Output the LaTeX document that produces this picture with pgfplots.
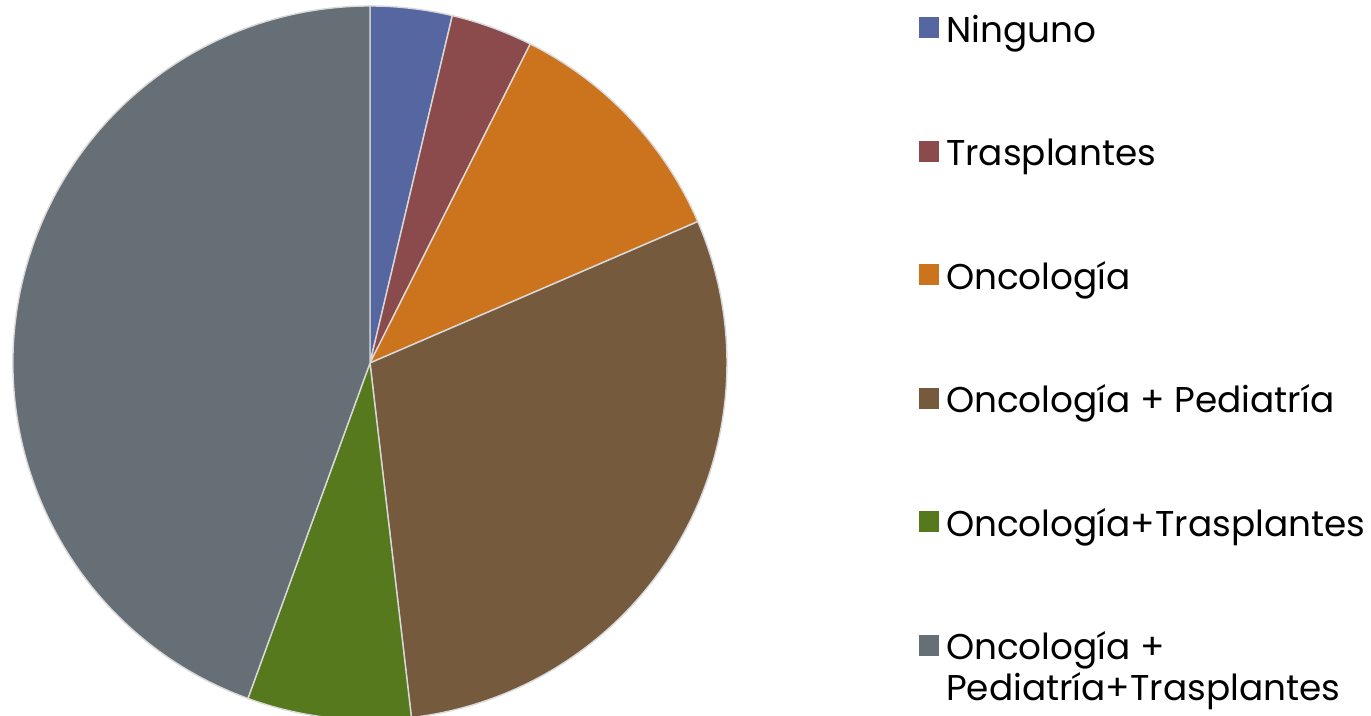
\documentclass[border=0pt]{standalone}
\usepackage{pgfplots}
\pgfplotsset{compat=1.18}
\usepackage{pgfplotstable}
\usepackage{fontspec}
\setmainfont{Poppins}

\definecolor{cNinguno}{HTML}{5566A1}
\definecolor{cTras}{HTML}{8B4A4C}
\definecolor{cOnco}{HTML}{CC741D}
\definecolor{cOncoPed}{HTML}{765A3E}
\definecolor{cOncoTras}{HTML}{55791C}
\definecolor{cTodo}{HTML}{666F76}

% counts per group (total 27)
\pgfplotstableread{
idx value color
0 1  cNinguno
1 1  cTras
2 3  cOnco
3 8  cOncoPed
4 2  cOncoTras
5 12 cTodo
}\pietable

\newcommand{\pieR}{3.57cm}

\begin{document}
\begin{tikzpicture}
\useasboundingbox (0,0) rectangle (13.71cm,7.16cm);
\begin{axis}[
	at={(3.70cm,3.53cm)}, anchor=center,
	x=\pieR, y=\pieR,
	xmin=-1, xmax=1, ymin=-1, ymax=1,
	hide axis, clip=false,
	legend cell align=left,
	legend image code/.code={\fill[#1, draw=none] (0cm,-0.085cm) rectangle (0.2cm,0.125cm);},
	legend style={at={(axis description cs:1.268,0.999)}, anchor=north west,
		draw=none, fill=none, inner sep=0pt, font=\fontsize{10.2}{12}\selectfont,
		row sep=0.785cm, column sep=0.07cm,
		nodes={inner sep=0pt, text height=0.35cm, text depth=0.1cm}},
]
\pgfmathsetmacro\total{0}
\pgfplotsforeachungrouped \i in {0,...,5}{%
	\pgfplotstablegetelem{\i}{value}\of\pietable
	\pgfmathsetmacro\total{\total+\pgfplotsretval}%
}
\pgfmathsetmacro\cum{0}
\pgfplotsforeachungrouped \i in {0,...,5}{%
	\pgfplotstablegetelem{\i}{value}\of\pietable
	\pgfmathsetmacro\a{90-360*\cum/\total}%
	\pgfmathsetmacro\cum{\cum+\pgfplotsretval}%
	\pgfmathsetmacro\b{90-360*\cum/\total}%
	\pgfplotstablegetelem{\i}{color}\of\pietable
	\edef\slice{\noexpand\fill[\pgfplotsretval, draw=white!85!black, line width=0.4pt]
		(axis cs:0,0) -- (axis cs:{cos(\a)},{sin(\a)})
		arc[start angle=\a, end angle=\b, radius=\noexpand\pieR] -- cycle;}%
	\slice
}
\addlegendimage{fill=cNinguno}\addlegendentry{Ninguno}
\addlegendimage{fill=cTras}\addlegendentry{Trasplantes}
\addlegendimage{fill=cOnco}\addlegendentry{Oncología}
\addlegendimage{fill=cOncoPed}\addlegendentry{Oncología + Pediatría}
\addlegendimage{fill=cOncoTras}\addlegendentry{Oncología+Trasplantes}
\addlegendimage{fill=cTodo}\addlegendentry{\parbox[t]{5cm}{\raggedright Oncología +\\[-0.5pt]Pediatría+Trasplantes}}
\end{axis}
\end{tikzpicture}
\end{document}
